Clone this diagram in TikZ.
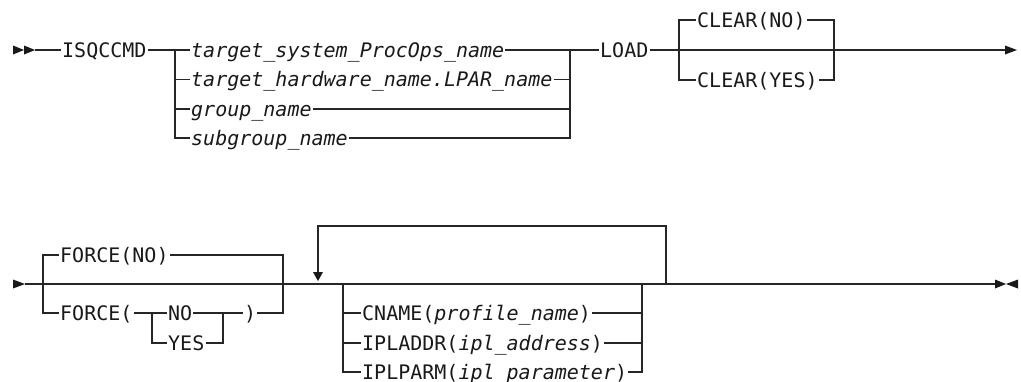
\documentclass[tikz,border=0pt]{standalone}
\usepackage{fontspec}
\newfontfamily\railfont{DejaVu Sans Mono}
\usetikzlibrary{calc}

\tikzset{
  kw/.style={font=\railfont\fontsize{20}{24}\selectfont, text=black!90, inner sep=0pt, inner xsep=1pt, text height=14.6pt, text depth=0pt, anchor=west},
  rail/.style={line width=1.1pt, draw=black!85},
  tip/.style={fill=black!90, draw=none},
}

\begin{document}
\begin{tikzpicture}[x=1pt,y=-1pt]
        \useasboundingbox (0,0) rectangle (1021,381);
        % first line
        \fill[tip](13,45.5)--(24,50)--(13,54.5)--cycle;
        \fill[tip](24,45.5)--(35,50)--(24,54.5)--cycle;
        \coordinate (s1) at (35,50);
        \node[kw] (cmd) at (61,50) {ISQCCMD};
        \coordinate (t1) at (175,50);
        \coordinate (t2) at (570,50);
        \node[kw] (tsys) at (190,50) {\itshape target\_system\_ProcOps\_name};
        \node[kw] (thw) at (190,79.5) {\itshape target\_hardware\_name.LPAR\_name};
        \node[kw] (grp) at (190,109) {\itshape group\_name};
        \node[kw] (sgrp) at (190,138) {\itshape subgroup\_name};
        \draw[rail](s1)--(cmd.west) (cmd.east)--(t1)--(tsys.west) (tsys.east)--(t2);
        \draw[rail](t1)|-(sgrp.west) (t1|-thw.west)--(thw.west) (t1|-grp.west)--(grp.west);
        \draw[rail](t2)|-(sgrp.east) (thw.east)--(t2|-thw.east) (grp.east)--(t2|-grp.east);
        \node[kw] (load) at (599,50) {LOAD};
        \coordinate (c1) at (679,50);
        \coordinate (c2) at (834,50);
        \coordinate (e1) at (1005,50);
        \node[kw] (clno) at (696,20) {CLEAR(NO)};
        \node[kw] (clyes) at (696,80) {CLEAR(YES)};
        \draw[rail](t2)--(load.west) (load.east)--(c1)--(c2)--(e1);
        \draw[rail](clno.west)-|(c1)|-(clyes.west);
        \draw[rail](clno.east)-|(c2)|-(clyes.east);
        \fill[tip](1005,45.5)--(1017,50)--(1005,54.5)--cycle;
        % second line
        \fill[tip](13,279.5)--(25,284)--(13,288.5)--cycle;
        \coordinate (s2) at (25,284);
        \coordinate (f1) at (43,284);
        \coordinate (f2) at (283,284);
        \node[kw] (fno) at (59,255) {FORCE(NO)};
        \node[kw] (fopen) at (59,313) {FORCE(};
        \coordinate (g1) at (152,313);
        \coordinate (g2) at (223,313);
        \node[kw] (gno) at (167,313) {NO};
        \node[kw] (gyes) at (167,343) {YES};
        \node[kw] (fclose) at (243,313) {)};
        \draw[rail](fno.west)-|(f1)|-(fopen.west);
        \draw[rail](fno.east)-|(f2)|-(fclose.east);
        \draw[rail](fopen.east)--(g1)--(gno.west) (g1)|-(gyes.west);
        \draw[rail](gno.east)--(g2)--(fclose.west) (gyes.east)-|(g2);
        \coordinate (o1) at (343,284);
        \coordinate (o2) at (642,284);
        \coordinate (r2) at (666,284);
        \coordinate (lt) at (318,226);
        \coordinate (ra) at (318,272);
        \coordinate (e2) at (995,284);
        \node[kw] (cn) at (361,313) {CNAME(\textit{profile\_name})};
        \node[kw] (ia) at (361,343) {IPLADDR(\textit{ipl\_address})};
        \node[kw] (ip) at (361,372) {IPLPARM(\textit{ipl\_parameter})};
        \draw[rail](s2)--(f1)--(f2)--(o1)--(o2)--(r2)--(e2);
        \draw[rail](r2)|-(lt)--(ra); %repeat
        \fill[tip](313,272)--(323,272)--(318,281)--cycle;
        \draw[rail](o1)|-(ip.west) (o1|-cn.west)--(cn.west) (o1|-ia.west)--(ia.west);
        \draw[rail](o2)|-(ip.east) (cn.east)--(o2|-cn.east) (ia.east)--(o2|-ia.east);
        \fill[tip](995,279.5)--(1006,284)--(995,288.5)--cycle;
        \fill[tip](1018,279.5)--(1006,284)--(1018,288.5)--cycle;
\end{tikzpicture}
\end{document}
